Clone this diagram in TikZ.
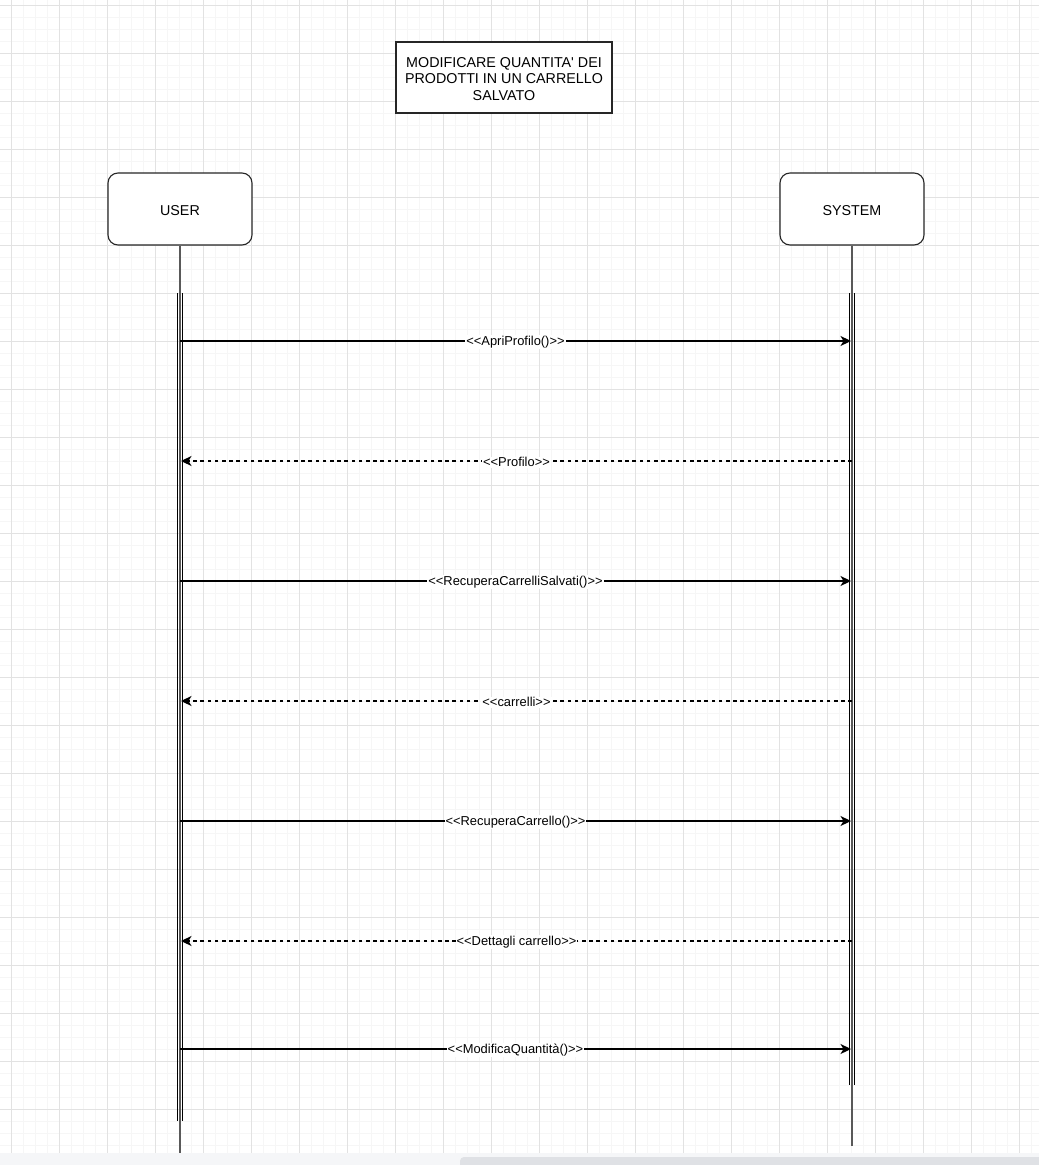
\documentclass[tikz,border=0pt]{standalone}
\usepackage{fontspec}
\setmainfont{Liberation Sans}[Ligatures=TeXOff]
\usetikzlibrary{arrows.meta}
\definecolor{gridmajor}{HTML}{E2E2E2}
\definecolor{gridminor}{HTML}{F6F6F6}
\definecolor{barband}{HTML}{F5F6F8}
\definecolor{barthumb}{HTML}{DFE1E5}
\tikzset{
  actor/.style={draw=black!85, line width=1.1pt, rounded corners=10pt, fill=white,
    minimum width=144pt, minimum height=72pt, inner sep=0pt},
  titlebox/.style={draw=black!85, line width=1.1pt, fill=white,
    minimum width=216pt, minimum height=71pt, inner sep=0pt},
  boxtext/.style={align=center, inner sep=0pt, font=\fontsize{14.3}{16.7}\selectfont},
  lifeline/.style={draw=black!65, line width=1.4pt},
  actbar/.style={draw=black, line width=1.1pt},
  call/.style={draw=black, line width=1.1pt, -{Stealth[length=10.5pt,width=10pt,inset=3pt]}},
  reply/.style={call, dash pattern=on 3.6pt off 3.6pt},
  msglabel/.style={fill=white, inner sep=1pt, text=black, yshift=-1.3pt,
    font=\fontsize{12.9}{14}\selectfont},
}
\begin{document}
\begin{tikzpicture}[x=1pt, y=-1pt]
\useasboundingbox (0,0) rectangle (1039,1165);
\fill[white] (0,0) rectangle (1039,1165);

% background grid: fine lines every 12, coarse lines every 48
\foreach \i in {0,...,86} {
  \draw[gridminor, line width=1pt] ({11+12*\i},0) -- ({11+12*\i},1153);
}
\foreach \j in {0,...,96} {
  \draw[gridminor, line width=1pt] (0,{5+12*\j}) -- (1039,{5+12*\j});
}
\foreach \i in {0,...,21} {
  \draw[gridmajor, line width=1pt] ({11+48*\i},0) -- ({11+48*\i},1153);
}
\foreach \j in {0,...,24} {
  \draw[gridmajor, line width=1pt] (0,{5+48*\j}) -- (1039,{5+48*\j});
}

% title
\node[titlebox] (title) at (504,77.5) {};
\node[boxtext] (titletext) at (504,79) {MODIFICARE QUANTITA' DEI\\PRODOTTI IN UN CARRELLO\\SALVATO};

% participants
\node[actor] (user) at (180,209) {};
\node[actor] (system) at (852,209) {};
\node[boxtext] (userlabel) at (180,210.5) {USER};
\node[boxtext] (syslabel) at (852,210.5) {SYSTEM};

% lifeline ends and activation bars
\coordinate (userend) at (180,1153);
\coordinate (sysend) at (852,1146);
\draw[lifeline] (user.south) -- (userend);
\draw[lifeline] (system.south) -- (sysend);

\draw[actbar] (177.5,293) -- (177.5,1121);
\draw[actbar] (182.5,293) -- (182.5,1121);
\draw[actbar] (849.5,293) -- (849.5,1085);
\draw[actbar] (854.5,293) -- (854.5,1085);

% message end points on the lifelines
\foreach \n/\y in {1/341, 2/461, 3/581, 4/701, 5/821, 6/941, 7/1049} {
  \coordinate (uc\n) at (180,\y);
  \coordinate (ur\n) at (181,\y);
  \coordinate (sc\n) at (851,\y);
  \coordinate (sr\n) at (852,\y);
}

% messages
\draw[call]  (uc1) -- node[msglabel] {<<ApriProfilo()>>} (sc1);
\draw[reply] (sr2) -- node[msglabel] {<<Profilo>>} (ur2);
\draw[call]  (uc3) -- node[msglabel] {<<RecuperaCarrelliSalvati()>>} (sc3);
\draw[reply] (sr4) -- node[msglabel] {<<carrelli>>} (ur4);
\draw[call]  (uc5) -- node[msglabel] {<<RecuperaCarrello()>>} (sc5);
\draw[reply] (sr6) -- node[msglabel] {<<Dettagli carrello>>} (ur6);
\draw[call]  (uc7) -- node[msglabel] {<<ModificaQuantità()>>} (sc7);

% horizontal scroll bar along the bottom edge
\fill[barband] (0,1153) rectangle (1039,1165);
\fill[barthumb, rounded corners=4pt] (460,1157) rectangle (1045,1169);
\end{tikzpicture}
\end{document}
